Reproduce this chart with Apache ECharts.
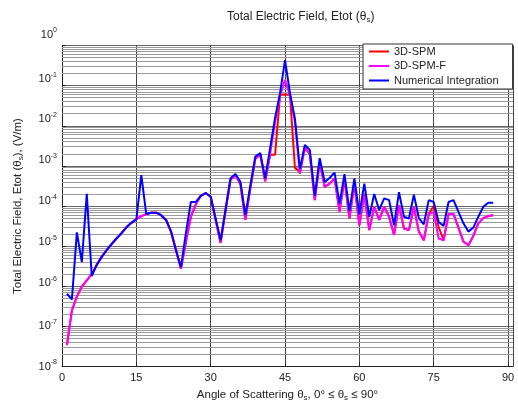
<!DOCTYPE html>
<html><head><meta charset="utf-8">
<script src="https://cdn.jsdelivr.net/npm/echarts@6/dist/echarts.min.js"></script>
<style>html,body{margin:0;padding:0;background:#fff}#c{width:518px;height:403px}</style>
</head><body><div id="c"></div>
<script>
// Angle of scattering (degrees)
const angleDeg = [1,2,3,4,5,6,7,8,9,10,11,12,13,14,15,16,17,18,19,20,21,22,23,24,25,26,27,28,29,30,
  31,32,33,34,35,36,37,38,39,40,41,42,43,44,45,46,47,48,49,50,51,52,53,54,55,56,57,58,59,60,
  61,62,63,64,65,66,67,68,69,70,71,72,73,74,75,76,77,78,79,80,81,82,83,84,85,86,87];

// 3D-SPM-F
const spmF = [3.4e-8,2.5e-7,5.5e-7,9.8e-7,1.4e-6,2.0e-6,3.4e-6,5.4e-6,7.9e-6,1.12e-5,
  1.55e-5,2.1e-5,2.95e-5,3.8e-5,4.7e-5,5.6e-5,6.3e-5,6.8e-5,6.8e-5,5.9e-5,
  4.5e-5,2.3e-5,7.9e-6,2.75e-6,1.26e-5,5.4e-5,1.1e-4,1.8e-4,2.1e-4,1.7e-4,
  4.5e-5,1.2e-5,7.6e-5,4.5e-4,5.8e-4,3.5e-4,4.5e-5,2.8e-4,1.5e-3,1.9e-3,
  4.1e-4,2.0e-3,1.26e-2,5.6e-2,1.4e-1,5.6e-2,1.26e-2,6.3e-4,2.8e-3,2.0e-3,
  1.4e-4,1.26e-3,3.0e-4,3.6e-4,4.9e-4,7.2e-5,4.7e-4,4.9e-5,3.6e-4,3.3e-5,
  2.0e-4,2.5e-5,9.5e-5,4.5e-5,9.5e-5,5.4e-5,1.9e-5,1.05e-4,2.75e-5,2.5e-5,
  9.5e-5,2.3e-5,1.4e-5,6.3e-5,7.1e-5,1.55e-5,1.4e-5,6.3e-5,6.3e-5,2.9e-5,
  1.3e-5,1.05e-5,1.8e-5,3.7e-5,5.0e-5,5.6e-5,5.9e-5];

// 3D-SPM
const spm = [3.4e-8,2.5e-7,5.5e-7,9.8e-7,1.4e-6,2.0e-6,3.4e-6,5.4e-6,7.9e-6,1.12e-5,
  1.55e-5,2.1e-5,2.95e-5,3.8e-5,4.7e-5,5.6e-5,6.3e-5,6.8e-5,6.8e-5,5.9e-5,
  4.5e-5,2.3e-5,7.9e-6,2.75e-6,1.26e-5,5.4e-5,1.1e-4,1.8e-4,2.1e-4,1.7e-4,
  4.5e-5,1.2e-5,7.6e-5,4.5e-4,5.8e-4,3.5e-4,4.5e-5,2.8e-4,1.5e-3,1.9e-3,
  4.1e-4,1.9e-3,1.9e-3,5.9e-2,6.0e-2,5.9e-2,8.9e-4,7.1e-4,2.8e-3,2.0e-3,
  1.4e-4,1.26e-3,3.0e-4,3.6e-4,4.9e-4,7.2e-5,4.7e-4,4.9e-5,3.6e-4,3.3e-5,
  2.0e-4,2.5e-5,9.5e-5,4.5e-5,9.5e-5,5.4e-5,1.9e-5,1.05e-4,2.75e-5,2.5e-5,
  9.5e-5,2.3e-5,1.4e-5,6.3e-5,1.0e-4,3.0e-5,1.4e-5,6.3e-5,6.3e-5,2.9e-5,
  1.3e-5,1.05e-5,1.8e-5,3.7e-5,5.0e-5,5.6e-5,5.9e-5];

// Numerical Integration
const numInt = [6.5e-7,4.7e-7,2.2e-5,4.0e-6,2.0e-4,1.8e-6,3.4e-6,5.4e-6,7.9e-6,1.12e-5,
  1.55e-5,2.1e-5,2.95e-5,3.8e-5,4.6e-5,5.9e-4,6.3e-5,6.8e-5,6.8e-5,5.9e-5,
  4.5e-5,2.3e-5,7.9e-6,3.0e-6,2.1e-5,1.26e-4,1.26e-4,1.8e-4,2.1e-4,1.7e-4,
  4.9e-5,1.4e-5,8.3e-5,4.9e-4,6.3e-4,4.0e-4,5.9e-5,3.2e-4,1.7e-3,2.1e-3,
  4.9e-4,2.8e-3,1.6e-2,6.5e-2,4.3e-1,6.5e-2,1.5e-2,8.3e-4,3.3e-3,2.5e-3,
  1.8e-4,1.55e-3,4.0e-4,5.0e-4,6.8e-4,1.15e-4,6.2e-4,7.6e-5,4.9e-4,6.3e-5,
  3.6e-4,5.4e-5,2.0e-4,7.9e-5,1.55e-4,1.4e-4,3.3e-5,2.2e-4,5.4e-5,4.9e-5,
  1.9e-4,5.0e-5,3.5e-5,1.4e-4,1.26e-4,4.0e-5,3.2e-5,1.26e-4,1.4e-4,7.1e-5,
  3.7e-5,2.3e-5,2.9e-5,5.4e-5,9.5e-5,1.2e-4,1.2e-4];

const seriesNames = ['3D-SPM', '3D-SPM-F', 'Numerical Integration'];
const seriesColors = ['#ff0000', '#ff00ff', '#0000ff'];
const xTicks = [0, 15, 30, 45, 60, 75, 90];
const yDecadeExponents = [-8, -7, -6, -5, -4, -3, -2, -1, 0];
// vertical lift (px) of each y tick label, as in the reference (by exponent -8..0)
const yLabelLift = [0, 0, 3, 4.5, 5, 6.3, 6.7, 6.6, 11];

const X_MIN = 0, X_MAX = 91;

function pairs(ys) { return angleDeg.map((a, i) => [a, ys[i]]); }

// minor log grid lines at 2..9 x 10^k
const minorLines = [];
for (let k = yDecadeExponents[0]; k < yDecadeExponents[yDecadeExponents.length - 1]; k++) {
  for (let m = 2; m <= 9; m++) {
    const v = m * Math.pow(10, k);
    minorLines.push({ coords: [[X_MIN, v], [X_MAX, v]] });
  }
}

const FONT = 'Liberation Sans, Arial, sans-serif';
const chart = echarts.init(document.getElementById('c'), null, { renderer: 'canvas' });

const yRich = {};
yDecadeExponents.forEach((e, i) => {
  const L = yLabelLift[i];
  yRich['b' + i] = { fontSize: 11, color: '#222', fontFamily: FONT, padding: [0, 0, 2 * L, 0] };
  yRich['e' + i] = { fontSize: 7, color: '#222', fontFamily: FONT, padding: [0, 0, 8 + 2 * L, 0] };
});

const dataSets = [spm, spmF, numInt];
const lineSeries = dataSets.map((d, i) => ({
  name: seriesNames[i],
  type: 'line',
  data: pairs(d),
  showSymbol: false,
  symbol: 'none',
  z: 3 + i,
  lineStyle: { color: seriesColors[i], width: 2 },
  itemStyle: { color: seriesColors[i] },
  emphasis: { disabled: true }
}));

chart.setOption({
  animation: false,
  backgroundColor: '#fff',
  textStyle: { fontFamily: FONT },
  title: {
    text: 'Total Electric Field, Etot (θ{s|s})',
    left: 222, top: 5,
    textStyle: {
      fontSize: 12, fontWeight: 'normal', color: '#222', fontFamily: FONT,
      rich: { s: { fontSize: 8, padding: [6, 0, 0, 0], color: '#222', fontFamily: FONT } }
    }
  },
  legend: {
    data: seriesNames,
    orient: 'vertical',
    left: 363, top: 44,
    itemWidth: 20, itemHeight: 10,
    itemGap: 1.5,
    padding: [1, 14, 2, 5],
    backgroundColor: '#fff',
    borderColor: '#333', borderWidth: 1, borderRadius: 0,
    itemStyle: { opacity: 0 },
    lineStyle: { width: 2, opacity: 1 },
    textStyle: { fontSize: 11, color: '#222', fontFamily: FONT, lineHeight: 13 }
  },
  grid: { left: 62, right: 5, top: 45.5, bottom: 36.5, containLabel: false, outerBoundsMode: 'none' },
  xAxis: {
    type: 'value', min: X_MIN, max: X_MAX, interval: 15,
    axisLine: { show: true, lineStyle: { color: '#222', width: 1 } },
    axisTick: { show: true, inside: true, length: 4, lineStyle: { color: '#222' } },
    axisLabel: {
      showMaxLabel: false, margin: 6, fontSize: 11, color: '#222', fontFamily: FONT,
      formatter: v => (xTicks.indexOf(v) >= 0 ? String(v) : '')
    },
    splitLine: { show: true, lineStyle: { color: '#444', width: 1 } },
    name: 'Angle of Scattering θ{s|s}, 0° ≤ θ{s|s} ≤ 90°',
    nameLocation: 'middle', nameGap: 20,
    nameTextStyle: {
      fontSize: 11.5, color: '#222', fontFamily: FONT,
      rich: { s: { fontSize: 8, padding: [6, 0, 0, 0], color: '#222', fontFamily: FONT } }
    }
  },
  yAxis: {
    type: 'log', logBase: 10, min: 1e-8, max: 1, splitNumber: 8,
    axisLine: { show: true, lineStyle: { color: '#222', width: 1 } },
    axisTick: { show: true, inside: true, length: 4, lineStyle: { color: '#222' } },
    axisLabel: {
      margin: 5, color: '#222', fontFamily: FONT,
      formatter: v => {
        const e = Math.round(Math.log10(v));
        const i = yDecadeExponents.indexOf(e);
        return '{b' + i + '|10}{e' + i + '|' + e + '}';
      },
      rich: yRich
    },
    splitLine: { show: true, lineStyle: { color: '#666', width: 1 } },
    name: 'Total Electric Field, Etot (θ{s|s}), (V/m)',
    nameLocation: 'middle', nameGap: 37,
    nameTextStyle: {
      fontSize: 11.5, color: '#222', fontFamily: FONT,
      rich: { s: { fontSize: 8, padding: [6, 0, 0, 0], color: '#222', fontFamily: FONT } }
    }
  },
  series: [{
    name: 'minor-grid', type: 'lines', coordinateSystem: 'cartesian2d',
    z: 1, silent: true, polyline: false,
    lineStyle: { color: '#9a9a9a', width: 1, type: 'solid', opacity: 1 },
    emphasis: { disabled: true },
    data: minorLines
  }].concat(lineSeries)
});
</script>
</body></html>
